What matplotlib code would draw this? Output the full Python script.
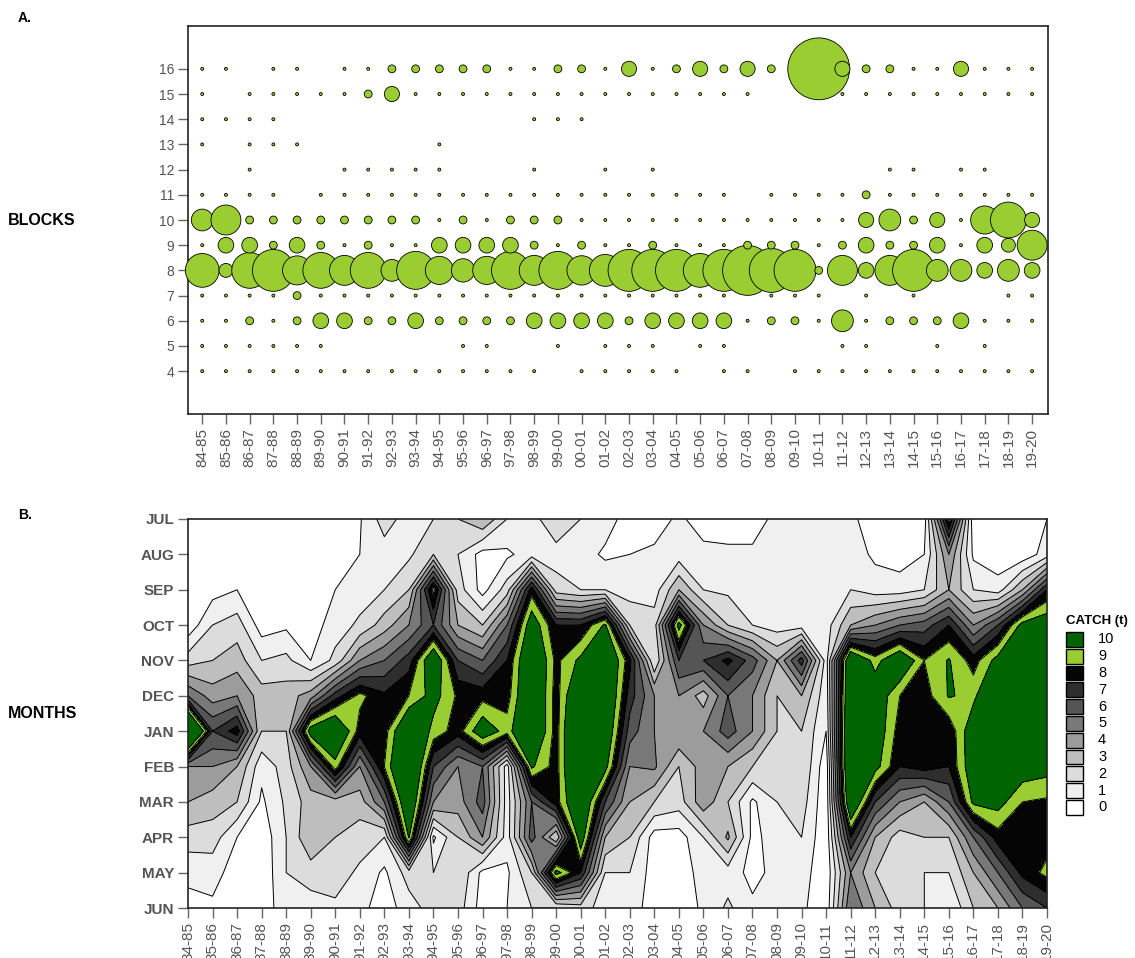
import numpy as np
import matplotlib
matplotlib.use("Agg")
import matplotlib.pyplot as plt
from matplotlib.patches import Rectangle

plt.rcParams["font.family"] = ["Liberation Sans", "DejaVu Sans"]

SEASONS = ["84-85", "85-86", "86-87", "87-88", "88-89", "89-90", "90-91", "91-92",
           "92-93", "93-94", "94-95", "95-96", "96-97", "97-98", "98-99", "99-00",
           "00-01", "01-02", "02-03", "03-04", "04-05", "05-06", "06-07", "07-08",
           "08-09", "09-10", "10-11", "11-12", "12-13", "13-14", "14-15", "15-16",
           "16-17", "17-18", "18-19", "19-20"]
MONTHS = ["JUL", "AUG", "SEP", "OCT", "NOV", "DEC", "JAN", "FEB", "MAR", "APR", "MAY", "JUN"]

# ── Panel A: catch by block (0 = no record), one list per block, one value per season ──
block_16 = [.5, .5, 0, .5, .5, 0, .5, .5, 3.5, 3.5, 3.5, 3.5, 3.5, .5, .5, 3.5, 3.5, .5,
            13, .5, 3.5, 13, 3.5, 13, 3.5, 0, 218, 13, 3.5, 3.5, .5, .5, 13, .5, .5, .5]
block_15 = [.5, 0, .5, .5, .5, .5, .5, 3.5, 13, .5, .5, .5, .5, .5, .5, .5, .5, .5,
            .5, .5, .5, .5, .5, .5, 0, 0, 0, .5, .5, .5, .5, .5, .5, .5, .5, .5]
block_14 = [.5, .5, .5, .5, 0, 0, 0, 0, 0, 0, 0, 0, 0, 0, .5, .5, .5, 0,
            0, 0, 0, 0, 0, 0, 0, 0, 0, 0, 0, 0, 0, 0, 0, 0, 0, 0]
block_13 = [.5, 0, .5, .5, .5, 0, 0, 0, 0, 0, .5, 0, 0, 0, 0, 0, 0, 0,
            0, 0, 0, 0, 0, 0, 0, 0, 0, 0, 0, 0, 0, 0, 0, 0, 0, 0]
block_12 = [0, 0, .5, 0, 0, 0, .5, .5, .5, .5, .5, 0, 0, 0, .5, 0, 0, .5,
            0, .5, 0, 0, 0, 0, 0, 0, 0, 0, 0, .5, .5, 0, .5, .5, 0, 0]
block_11 = [.5, .5, .5, .5, 0, .5, .5, .5, .5, .5, .5, .5, .5, .5, .5, .5, .5, .5,
            .5, .5, .5, .5, .5, 0, .5, .5, .5, .5, 3.5, .5, .5, .5, .5, .5, .5, .5]
block_10 = [27, 51, 3.5, 3.5, 3.5, 3.5, 3.5, 3.5, 3.5, 3.5, .5, 3.5, .5, 3.5, 3.5, 3.5, .5, .5,
            .5, .5, .5, .5, .5, .5, .5, .5, .5, .5, 13, 27, 3.5, 13, .5, 45, 73, 13]
block_9 = [.5, 14, 14, 3.5, 14, 3.5, .5, 3.5, .5, .5, 14, 14, 14, 14, 3.5, .5, 3.5, .5,
           .5, 3.5, .5, .5, .5, 3.5, 3.5, 3.5, .5, 3.5, 14, 3.5, 3.5, 14, .5, 14, 11, 51]
block_8 = [65, 11, 73, 100, 48, 73, 51, 73, 27, 82, 45, 31, 45, 82, 51, 82, 49, 58,
           100, 100, 100, 65, 100, 142, 110, 100, 3.5, 51, 14, 51, 100, 27, 27, 14, 27, 14]
block_7 = [.5, .5, .5, .5, 3.5, .5, .5, .5, .5, .5, .5, .5, .5, .5, .5, .5, .5, .5,
           .5, .5, .5, .5, .5, 0, .5, .5, .5, 0, .5, 0, .5, 0, 0, 0, .5, .5]
block_6 = [.5, .5, 3.5, .5, 3.5, 14, 14, 3.5, 3.5, 14, 3.5, 3.5, 3.5, 3.5, 14, 14, 14, 14,
           3.5, 14, 14, 14, 14, .5, 3.5, 3.5, .5, 27, .5, 3.5, 3.5, 3.5, 14, .5, .5, .5]
block_5 = [.5, .5, .5, .5, .5, .5, 0, 0, 0, 0, 0, .5, .5, 0, 0, .5, 0, .5,
           .5, .5, 0, .5, .5, 0, 0, 0, 0, .5, .5, 0, 0, .5, 0, .5, 0, 0]
block_4 = [.5, .5, .5, .5, .5, .5, .5, .5, .5, .5, .5, .5, .5, .5, .5, 0, .5, .5,
           .5, .5, .5, 0, .5, .5, 0, .5, .5, .5, .5, .5, .5, .5, .5, .5, .5, .5]

BLOCKS = [4, 5, 6, 7, 8, 9, 10, 11, 12, 13, 14, 15, 16]
block_catch = [block_4, block_5, block_6, block_7, block_8, block_9, block_10,
               block_11, block_12, block_13, block_14, block_15, block_16]

# ── Panel B: monthly catch (t), rows JUL..JUN, one value per season ──
catch_jul = [0, 0, 0, 0, 0, 0, 0, 0.9, 2.5, 1.5, 2, 3, 4, 2, 1.5, 3, 2, 1.5,
             0.5, 0.5, 1.2, 0.5, 0.5, 0.5, 1.3, 1.5, 1.2, 1.2, 0.5, 0.3, 0.5, 9.2, 0.3, 0, 0, 1]
catch_aug = [0, 0, 0, 0, 0, 0, 0, 1.0, 1.5, 1.8, 3, 2, 0.6, 0.8, 1.5, 1.5, 1.5, 0.8,
             1.0, 1.2, 1.5, 1.3, 1.2, 1.2, 1.5, 1.5, 1.3, 1.5, 0.8, 0.5, 1, 5, 0.8, 0.3, 0.3, 1.5]
catch_sep = [0, 0.6, 1.0, 0, 0, 0, 1.0, 1.5, 2, 3, 9.3, 2.5, 0.6, 2.5, 8.5, 2.5, 2, 2,
             1.5, 1.5, 4, 2, 1.8, 1.5, 1.5, 1.5, 1.5, 2, 1.5, 1.5, 2, 4, 2, 1.5, 4, 8]
catch_oct = [0.3, 2.0, 2.5, 0.5, 0.8, 0.5, 1.5, 2.2, 3.5, 5, 7, 4, 3, 6, 11, 8, 8, 10.2,
             3, 2.5, 10.5, 5, 3, 2, 1.5, 1.5, 1.5, 4, 5, 6, 6.5, 8.0, 5, 7, 10.5, 11]
catch_nov = [2.5, 3, 3.5, 2.0, 2.3, 1.0, 2.3, 5, 6, 7.5, 11.5, 7, 6, 8, 12, 8.7, 10.3, 12,
             8.3, 2, 7, 7, 8.3, 6.5, 4, 7.5, 1.5, 12, 9.5, 11.5, 9.0, 10.1, 8.5, 10.5, 13, 12]
catch_dec = [6, 4.5, 5, 3.5, 3.5, 4.5, 7.5, 9.3, 8.2, 9, 10.5, 8.8, 8.6, 8.5, 12, 8.5, 12, 12,
             7.5, 5, 5, 3.5, 6, 5, 3, 4, 1.3, 12.5, 11, 9.0, 8.5, 10.1, 9.7, 12, 13, 12]
catch_jan = [15, 7, 8.5, 3, 3, 10.8, 12, 8.5, 8.5, 12, 9.6, 8.5, 11, 9.5, 12, 8.5, 13, 11.5,
             6.5, 5, 5, 5, 6.5, 5, 3, 3, 1.0, 13, 11, 8.5, 8.5, 8.2, 11, 13, 13, 12]
catch_feb = [5, 5, 4, 1.3, 2.5, 5, 9.5, 5, 9, 13, 7, 5, 6, 1.5, 10.2, 8.5, 13, 10.5,
             5, 5.2, 3, 4.5, 4, 3, 2.5, 3, 0.3, 13, 10.5, 8, 8.5, 8, 11, 12, 10.8, 10.5]
catch_mar = [4, 3.5, 3, 0.8, 2.2, 3.5, 3.5, 3.5, 6, 12, 5, 4.5, 6.5, 1.5, 6, 8.5, 12, 7,
             4, 3, 2.5, 4.7, 3, 0.8, 2, 2.5, 0.2, 12, 7, 5, 4, 6, 10.3, 10.5, 9, 8.8]
catch_apr = [2.5, 2.5, 1.0, 0.3, 2, 3.9, 3, 2.5, 2, 10.1, 0.8, 3, 5, 1.5, 6.5, 3, 11, 4,
             3, 0.5, 0.5, 2, 4.2, 0.7, 1.5, 2, 0.2, 8, 4, 2.5, 3, 3, 6, 8.5, 8.5, 8.5]
catch_may = [1.3, 1.4, 0.5, 0.2, 2, 2.5, 2.5, 1.8, 0.8, 2.5, 2, 3, 0.7, 0.8, 3, 10.5, 8, 2,
             2, 0.5, 0.3, 1.5, 1.5, 0.7, 1.3, 1.5, 0.2, 5, 3, 3, 2, 2, 4, 6, 8.3, 9.3]
catch_jun = [0.6, 0.8, 0.2, 0.5, 1.5, 1.5, 1.8, 1.3, 0.5, 1.5, 2.5, 2.5, 0.5, 1.0, 2, 2, 2.5, 1.5,
             1.5, 0.5, 0.3, 1.2, 2.2, 1.2, 1.2, 1.2, 0.3, 6, 4, 2.5, 2, 1, 3, 4, 6, 7]

monthly = [catch_jul, catch_aug, catch_sep, catch_oct, catch_nov, catch_dec,
           catch_jan, catch_feb, catch_mar, catch_apr, catch_may, catch_jun]

LEVEL_LABELS = ["0", "1", "2", "3", "4", "5", "6", "7", "8", "9", "10"]
LEVEL_COLORS = ["#FFFFFF", "#F0F0F0", "#DCDCDC", "#BEBEBE", "#9C9C9C", "#787878",
                "#555555", "#2E2E2E", "#050505", "#9ACD32", "#006400"]

TICK_GRAY = "#555555"

fig = plt.figure(figsize=(11.35, 9.58), dpi=100)
W, H = 1135, 958

def fig_box(x0, y0, x1, y1):
    return [x0 / W, 1 - y1 / H, (x1 - x0) / W, (y1 - y0) / H]

# ── Panel A: bubbles ──
axA = fig.add_axes(fig_box(188, 26, 1048, 414))
xs = np.arange(len(SEASONS))
for blk, vals in zip(BLOCKS, block_catch):
    vals = np.asarray(vals, dtype=float)
    keep = vals > 0
    axA.scatter(xs[keep], np.full(keep.sum(), blk), s=vals[keep] * 9.1,
                facecolor="#9ACD32", edgecolor="black", linewidth=0.6,
                clip_on=False, zorder=3)
axA.set_xlim(-0.6, len(SEASONS) - 1 + 0.67)
axA.set_ylim(2.3, 17.7)
axA.set_yticks(BLOCKS)
axA.set_yticklabels([str(b) for b in BLOCKS], fontsize=10, color=TICK_GRAY)
axA.set_xticks(xs)
axA.set_xticklabels(SEASONS, rotation=90, fontsize=11, color=TICK_GRAY)
axA.tick_params(length=7, width=1, color="#666666", pad=3)
for sp in axA.spines.values():
    sp.set_linewidth(1.2)
    sp.set_color("#222222")

fig.text(18 / W, 1 - 18 / H, "A.", fontsize=10, fontweight="bold", va="center")
fig.text(8 / W, 1 - 221 / H, "BLOCKS", fontsize=11.5, fontweight="bold", va="center")

# ── Panel B: filled contours ──
axB = fig.add_axes(fig_box(188, 519, 1047, 908))
Z = np.array(monthly, dtype=float)
levels = list(range(0, 11)) + [20]
axB.contourf(xs, np.arange(len(MONTHS)), Z, levels=levels, colors=LEVEL_COLORS)
axB.contour(xs, np.arange(len(MONTHS)), Z, levels=list(range(1, 11)),
            colors="black", linewidths=0.7)
axB.set_xlim(0, len(SEASONS) - 1)
axB.set_ylim(len(MONTHS) - 1, 0)
axB.set_yticks(np.arange(len(MONTHS)))
axB.set_yticklabels(MONTHS, fontsize=11, fontweight="bold", color=TICK_GRAY)
axB.set_xticks(xs)
axB.set_xticklabels(SEASONS, rotation=90, fontsize=11, color=TICK_GRAY)
axB.tick_params(length=7, width=1, color="#666666", pad=3)
for sp in axB.spines.values():
    sp.set_linewidth(1.2)
    sp.set_color("#222222")

fig.text(18 / W, 1 - 515 / H, "B.", fontsize=10, fontweight="bold", va="center")
fig.text(8 / W, 1 - 714 / H, "MONTHS", fontsize=11.5, fontweight="bold", va="center")

# ── Legend ──
fig.text(1066 / W, 1 - 621 / H, "CATCH (t)", fontsize=9.5, fontweight="bold", va="center")
box_h = 16.8
for k, (lab, col) in enumerate(zip(LEVEL_LABELS[::-1], LEVEL_COLORS[::-1])):
    y_top = 631 + k * box_h
    fig.add_artist(Rectangle((1066 / W, 1 - (y_top + box_h - 1) / H), 17 / W, (box_h - 2) / H,
                             transform=fig.transFigure, facecolor=col,
                             edgecolor="black", linewidth=1))
    fig.text(1098 / W, 1 - (y_top + box_h / 2) / H, lab, fontsize=10.5, va="center")

fig.savefig("out.png", dpi=100)
